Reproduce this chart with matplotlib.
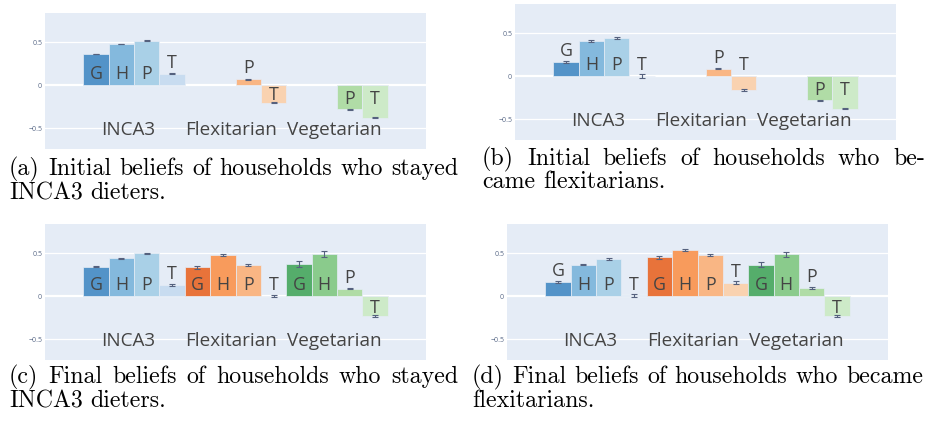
import numpy as np
import matplotlib
matplotlib.use("Agg")
import matplotlib.pyplot as plt

nan = np.nan

# ---------------- data ----------------
groups = ["INCA3", "Flexitarian", "Vegetarian"]
letters = ["G", "H", "P", "T"]

# 12 bars per panel: INCA3 G,H,P,T | Flexitarian G,H,P,T | Vegetarian G,H,P,T
a_vals = [0.364, 0.48, 0.52, 0.135, nan, nan, 0.07, -0.20, nan, nan, -0.28, -0.376]
a_errs = [0.005, 0.004, 0.004, 0.005, nan, nan, 0.004, 0.005, nan, nan, 0.004, 0.004]

b_vals = [0.167, 0.41, 0.446, 0.005, nan, nan, 0.089, -0.159, nan, nan, -0.28, -0.376]
b_errs = [0.012, 0.010, 0.012, 0.020, nan, nan, 0.008, 0.006, nan, nan, 0.004, 0.004]

c_vals = [0.341, 0.442, 0.50, 0.132, 0.337, 0.48, 0.36, 0.005, 0.376, 0.492, 0.09, -0.229]
c_errs = [0.006, 0.006, 0.008, 0.010, 0.018, 0.014, 0.010, 0.010, 0.033, 0.030, 0.008, 0.017]

d_vals = [0.163, 0.368, 0.43, 0.01, 0.453, 0.539, 0.477, 0.159, 0.368, 0.488, 0.097, -0.229]
d_errs = [0.012, 0.010, 0.010, 0.017, 0.014, 0.012, 0.010, 0.015, 0.033, 0.030, 0.008, 0.017]

captions = {
    "a": ["(a) Initial beliefs of households who stayed", "INCA3 dieters."],
    "b": ["(b) Initial beliefs of households who be-", "came flexitarians."],
    "c": ["(c) Final beliefs of households who stayed", "INCA3 dieters."],
    "d": ["(d) Final beliefs of households who became", "flexitarians."],
}

# ---------------- style ----------------
group_colors = [
    ["#5393C8", "#84B9DD", "#A9D0E7", "#C8DCF0"],
    ["#E8733A", "#F89B5C", "#F9B684", "#F9D2B0"],
    ["#55AD6B", "#8ACB8C", "#B0DCA6", "#CDEAC8"],
]
BG = "#E5ECF6"
TXT = "#444444"
ERR = "#55617e"

W, H = 935, 421
fig = plt.figure(figsize=(W / 100, H / 100), dpi=100)
fig.patch.set_facecolor("white")
renderer = fig.canvas.get_renderer()

# axes boxes in pixels: left, top, right, bottom
boxes = {"a": (45, 13, 426, 149), "b": (515, 4, 896, 140),
         "c": (45, 224, 426, 360), "d": (507, 224, 888, 360)}
panels = {"a": (a_vals, a_errs), "b": (b_vals, b_errs),
          "c": (c_vals, c_errs), "d": (d_vals, d_errs)}
group_label_x = [1.28, 5.31, 9.39]

for key, (vals, errs) in panels.items():
    l, t, r, b = boxes[key]
    ax = fig.add_axes([l / W, 1 - b / H, (r - l) / W, (b - t) / H])
    ax.set_facecolor(BG)
    for s in ax.spines.values():
        s.set_visible(False)
    ax.set_xlim(-2.01, 13.01)
    ax.set_ylim(-0.74, 0.84)
    ax.set_xticks([])
    ax.set_yticks([-0.5, 0, 0.5])
    ax.set_yticklabels(["\u22120.5", "0", "0.5"], family="Open Sans")
    ax.tick_params(axis="y", length=0, pad=2, labelsize=5, labelcolor="#5a6a88")
    for yv in (-0.5, 0.5):
        ax.axhline(yv, color="white", lw=0.9, zorder=0.5)
    ax.axhline(0, color="white", lw=1.6, zorder=0.6)

    x = np.arange(12)
    v = np.array(vals, dtype=float)
    e = np.array(errs, dtype=float)
    cols = [group_colors[i // 4][i % 4] for i in range(12)]
    m = ~np.isnan(v)
    ax.bar(x[m], v[m], width=1.0, color=[c for c, k in zip(cols, m) if k],
           edgecolor=BG, linewidth=0.5, zorder=2)
    ax.errorbar(x[m], v[m], yerr=e[m], fmt="none", ecolor=ERR, elinewidth=0.8,
                capsize=2.2, capthick=0.8, zorder=3)

    half_cap = 0.071
    for i in range(12):
        if np.isnan(v[i]):
            continue
        val = v[i]
        if abs(val) >= 0.18:
            c = np.sign(val) * min(0.145, abs(val) / 2 + 0.005)
        else:
            c = max(val, 0) + 0.14
        ax.text(i, c - half_cap, letters[i % 4], ha="center", va="baseline",
                fontsize=12.8, color=TXT, family="Open Sans", zorder=4)

    for gx, g in zip(group_label_x, groups):
        ax.text(gx, -0.578, g, ha="center", va="baseline", fontsize=13.6,
                color=TXT, family="Open Sans", zorder=4)

# ---------------- captions (justified first line) ----------------
cap_layout = {"a": (9, 458, (175, 199)), "b": (482, 925, (165, 188)),
              "c": (9, 458, (383, 407)), "d": (472, 923, (383, 407))}
FS = 17.2
space_px = FS * 100 / 72 * 0.333

for key, lines in captions.items():
    left, right, bases = cap_layout[key]
    for k, (line, yb) in enumerate(zip(lines, bases)):
        words = line.split(" ")
        texts = [fig.text(0, 0, w, fontsize=FS, family="cmr10", va="baseline",
                          ha="left", color="black") for w in words]
        widths = [tx.get_window_extent(renderer).width for tx in texts]
        if k == 0 and len(words) > 1:
            gap = (right - left - sum(widths)) / (len(words) - 1)
        else:
            gap = space_px
        xp = left
        for tx, wd in zip(texts, widths):
            tx.set_position((xp / W, 1 - yb / H))
            xp += wd + gap

fig.savefig("out.png", dpi=100, facecolor="white")
